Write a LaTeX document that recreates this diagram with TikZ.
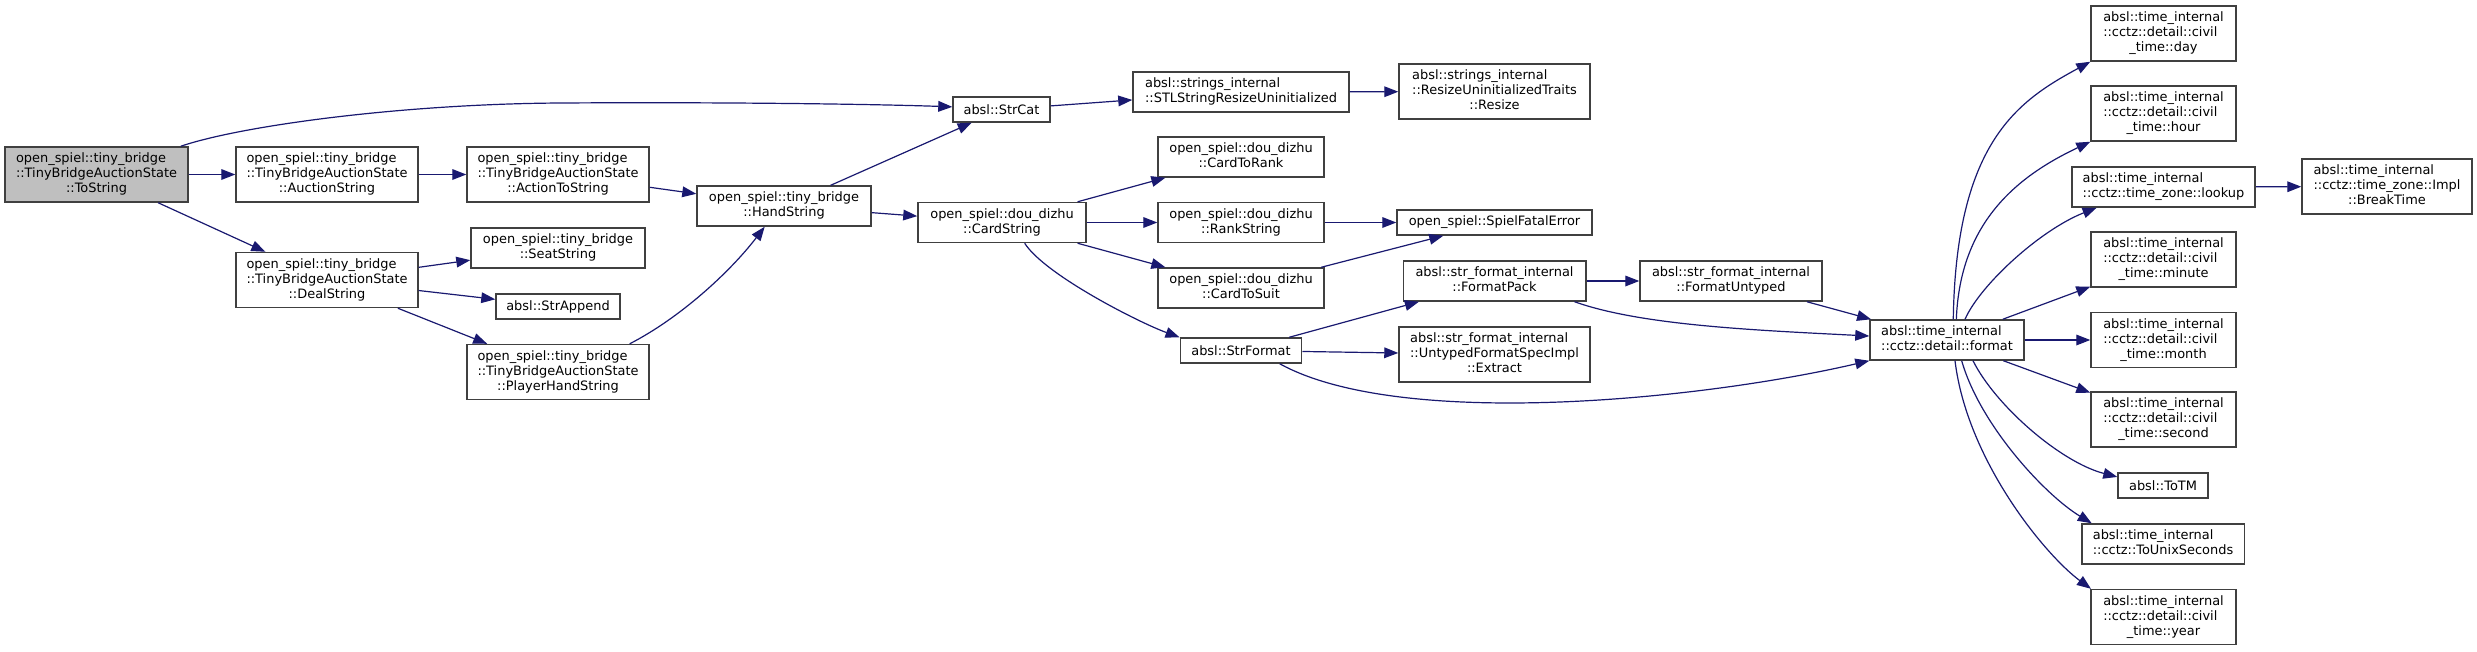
\documentclass[tikz,border=0pt]{standalone}
\usepackage{fontspec}
\setmainfont{DejaVu Sans}
\usetikzlibrary{arrows.meta}
\definecolor{edgec}{HTML}{191970}
\definecolor{boxc}{HTML}{404040}
\definecolor{rootc}{HTML}{BFBFBF}
\newcommand{\dlab}[2]{\begin{tabular}{@{}l@{}}#1\\\multicolumn{1}{@{}c@{}}{#2}\end{tabular}}
\tikzset{
  box/.style={draw=boxc, line width=1.1pt, fill=white, inner sep=0pt, font=\fontsize{9.7}{11.25}\selectfont},
  wh/.style 2 args={minimum width=#1*0.75pt, minimum height=#2*0.75pt},
  call/.style={draw=edgec, line width=0.9pt, -{Triangle[length=10.5pt,width=8pt]}}
}
\begin{document}
\begin{tikzpicture}[x=0.75pt,y=-0.75pt]
\useasboundingbox[fill=white] (0,0) rectangle (2477,651);
% nodes
\node[box,fill=rootc,wh={183}{55}] (ts) at (96.5,174.5) {\dlab{open\_spiel::tiny\_bridge\\::TinyBridgeAuctionState}{::ToString}};
\node[box,wh={182}{55}] (auc) at (327,174.5) {\dlab{open\_spiel::tiny\_bridge\\::TinyBridgeAuctionState}{::AuctionString}};
\node[box,wh={182}{55}] (deal) at (327,280) {\dlab{open\_spiel::tiny\_bridge\\::TinyBridgeAuctionState}{::DealString}};
\node[box,wh={182}{55}] (ats) at (558,174.5) {\dlab{open\_spiel::tiny\_bridge\\::TinyBridgeAuctionState}{::ActionToString}};
\node[box,wh={174}{40}] (seat) at (558,248) {\dlab{open\_spiel::tiny\_bridge}{::SeatString}};
\node[box,wh={124}{25}] (app) at (558,306.5) {absl::StrAppend};
\node[box,wh={182}{55}] (phs) at (558,372) {\dlab{open\_spiel::tiny\_bridge\\::TinyBridgeAuctionState}{::PlayerHandString}};
\node[box,wh={174}{40}] (hand) at (784,206) {\dlab{open\_spiel::tiny\_bridge}{::HandString}};
\node[box,wh={97}{25}] (cat) at (1001.5,109.5) {absl::StrCat};
\node[box,wh={168}{40}] (cs) at (1002,222.5) {\dlab{open\_spiel::dou\_dizhu}{::CardString}};
\node[box,wh={216}{40}] (stl) at (1241,92) {\dlab{absl::strings\_internal}{::STLStringResizeUninitialized}};
\node[box,wh={166}{40}] (ctr) at (1241,157) {\dlab{open\_spiel::dou\_dizhu}{::CardToRank}};
\node[box,wh={166}{40}] (rs) at (1241,222.5) {\dlab{open\_spiel::dou\_dizhu}{::RankString}};
\node[box,wh={166}{40}] (cts) at (1241,288) {\dlab{open\_spiel::dou\_dizhu}{::CardToSuit}};
\node[box,wh={121.5}{25}] (sf) at (1241,350.5) {absl::StrFormat};
\node[box,wh={191}{55}] (rsz) at (1494.5,91.5) {\dlab{absl::strings\_internal\\::ResizeUninitializedTraits}{::Resize}};
\node[box,wh={195}{25}] (sfe) at (1494.5,222.5) {open\_spiel::SpielFatalError};
\node[box,wh={182.5}{40}] (fp) at (1494.5,281) {\dlab{absl::str\_format\_internal}{::FormatPack}};
\node[box,wh={191}{55}] (ext) at (1494.5,354.5) {\dlab{absl::str\_format\_internal\\::UntypedFormatSpecImpl}{::Extract}};
\node[box,wh={182}{40}] (fu) at (1731,281) {\dlab{absl::str\_format\_internal}{::FormatUntyped}};
\node[box,wh={154}{40}] (fmt) at (1947,340) {\dlab{absl::time\_internal}{::cctz::detail::format}};
\node[box,wh={145}{55}] (day) at (2163.5,33.5) {\dlab{absl::time\_internal\\::cctz::detail::civil}{\_time::day}};
\node[box,wh={145}{55}] (hour) at (2163.5,113.5) {\dlab{absl::time\_internal\\::cctz::detail::civil}{\_time::hour}};
\node[box,wh={183}{40}] (lookup) at (2163.5,187) {\dlab{absl::time\_internal}{::cctz::time\_zone::lookup}};
\node[box,wh={145}{55}] (minute) at (2163.5,259.5) {\dlab{absl::time\_internal\\::cctz::detail::civil}{\_time::minute}};
\node[box,wh={145}{55}] (month) at (2163.5,340) {\dlab{absl::time\_internal\\::cctz::detail::civil}{\_time::month}};
\node[box,wh={145}{55}] (second) at (2163.5,419.5) {\dlab{absl::time\_internal\\::cctz::detail::civil}{\_time::second}};
\node[box,wh={90}{25}] (totm) at (2163,485.5) {absl::ToTM};
\node[box,wh={162.5}{40}] (tu) at (2163,544) {\dlab{absl::time\_internal}{::cctz::ToUnixSeconds}};
\node[box,wh={145}{55}] (year) at (2163.5,617) {\dlab{absl::time\_internal\\::cctz::detail::civil}{\_time::year}};
\node[box,wh={170}{55}] (bt) at (2387,186.5) {\dlab{absl::time\_internal\\::cctz::time\_zone::Impl}{::BreakTime}};
% straight edges
\draw[call] (ts) -- (auc);
\draw[call] (ts) -- (deal);
\draw[call] (auc) -- (ats);
\draw[call] (ats) -- (hand);
\draw[call] (deal) -- (seat);
\draw[call] (deal) -- (app);
\draw[call] (deal) -- (phs);
\draw[call] (hand) -- (cat);
\draw[call] (hand) -- (cs);
\draw[call] (cat) -- (stl);
\draw[call] (stl) -- (rsz);
\draw[call] (cs) -- (ctr);
\draw[call] (cs) -- (rs);
\draw[call] (cs) -- (cts);
\draw[call] (rs) -- (sfe);
\draw[call] (cts) -- (sfe);
\draw[call] (sf) -- (fp);
\draw[call] (sf) -- (ext);
\draw[call] (fp) -- (fu);
\draw[call] (fu) -- (fmt);
\draw[call] (fmt) -- (minute);
\draw[call] (fmt) -- (month);
\draw[call] (fmt) -- (second);
\draw[call] (lookup) -- (bt);
% curved edges
\draw[call] ([xshift=-6pt]ts.north east) .. controls (240,126) and (400,104) .. (560,103) .. controls (720,102) and (870,104) .. ([yshift=2pt]cat.west);
\draw[call] ([xshift=-15pt]phs.north east) .. controls (680,318) and (730,272) .. ([xshift=-14.5pt]hand.south);
\draw[call] ([xshift=17pt]cs.south) .. controls (1045,275) and (1140,323) .. (sf.north west);
\draw[call] ([xshift=29pt]sf.south) .. controls (1400,430) and (1700,400) .. (fmt.south west);
\draw[call] ([xshift=-9pt]fp.south east) .. controls (1640,325) and (1750,330) .. ([yshift=3pt]fmt.west);
\draw[call] ([xshift=4.7pt]fmt.north) .. controls (1956,140) and (2020,100) .. (day.south west);
\draw[call] ([xshift=7pt]fmt.north) .. controls (1960,220) and (2020,175) .. (hour.south west);
\draw[call] ([xshift=13.5pt]fmt.north) .. controls (1980,285) and (2040,230) .. ([xshift=19pt]lookup.south west);
\draw[call] ([xshift=19.5pt]fmt.south) .. controls (1995,405) and (2060,462) .. ([yshift=-3.5pt]totm.north west);
\draw[call] ([xshift=11pt]fmt.south) .. controls (1980,425) and (2045,495) .. ([xshift=8pt]tu.north west);
\draw[call] ([xshift=6pt]fmt.south) .. controls (1967,460) and (2045,555) .. ([xshift=0.5pt]year.north west);
\end{tikzpicture}
\end{document}
